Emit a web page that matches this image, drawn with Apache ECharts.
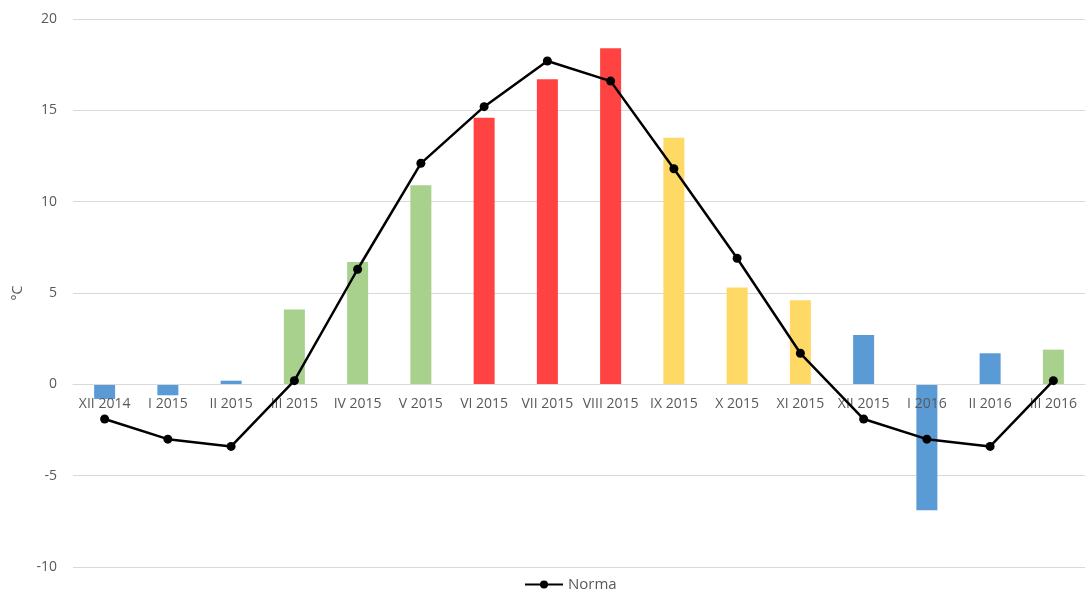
<!DOCTYPE html>
<html>
<head>
<meta charset="utf-8">
<script src="https://cdn.jsdelivr.net/npm/echarts@6/dist/echarts.min.js"></script>
<style>
  html, body { margin: 0; padding: 0; background: #ffffff; }
  #chart { width: 1088px; height: 599px; }
</style>
</head>
<body>
<div id="chart"></div>
<script>
// Monthly mean temperature vs. climate norm
const months = ['XII 2014', 'I 2015', 'II 2015', 'III 2015', 'IV 2015', 'V 2015', 'VI 2015', 'VII 2015',
  'VIII 2015', 'IX 2015', 'X 2015', 'XI 2015', 'XII 2015', 'I 2016', 'II 2016', 'III 2016'];
const measured = [-0.8, -0.6, 0.2, 4.1, 6.7, 10.9, 14.6, 16.7, 18.4, 13.5, 5.3, 4.6, 2.7, -6.9, 1.7, 1.9];
const norma = [-1.9, -3.0, -3.4, 0.2, 6.3, 12.1, 15.2, 17.7, 16.6, 11.8, 6.9, 1.7, -1.9, -3.0, -3.4, 0.2];
// season of each month: winter, spring, summer, autumn
const season = ['w', 'w', 'w', 'sp', 'sp', 'sp', 'su', 'su', 'su', 'a', 'a', 'a', 'w', 'w', 'w', 'sp'];
const yTicks = { min: -10, max: 20, interval: 5 };

const seasonColor = { w: '#5b9bd5', sp: '#a9d18e', su: '#ff4343', a: '#ffd966' };
const labelFont = 'Open Sans, DejaVu Sans, sans-serif';

const gridTop = 19;
const gridBottom = 32;
const gridHeight = 599 - gridTop - gridBottom;
// lift the category axis from the bottom edge up to the zero line
const zeroOffset = gridHeight * (0 - yTicks.min) / (yTicks.max - yTicks.min);

const chart = echarts.init(document.getElementById('chart'));
chart.setOption({
  animation: false,
  backgroundColor: '#ffffff',
  grid: { left: 73, right: 3, top: gridTop, bottom: gridBottom, containLabel: false, outerBoundsMode: 'none' },
  legend: {
    data: ['Norma'],
    bottom: 2,
    left: 519,
    itemWidth: 38,
    itemHeight: 10,
    itemGap: 6,
    textStyle: { color: '#595959', fontSize: 15, fontFamily: labelFont }
  },
  xAxis: {
    type: 'category',
    data: months,
    offset: -zeroOffset,
    axisLine: { onZero: false, lineStyle: { color: '#d9d9d9', width: 1 } },
    axisTick: { show: false },
    axisLabel: {
      interval: 0,
      hideOverlap: false,
      color: '#595959',
      fontSize: 14,
      fontFamily: labelFont,
      margin: 13
    },
    z: 2
  },
  yAxis: {
    type: 'value',
    min: yTicks.min,
    max: yTicks.max,
    interval: yTicks.interval,
    name: '°C',
    nameLocation: 'middle',
    nameGap: 48,
    nameTextStyle: { color: '#595959', fontSize: 14, fontFamily: labelFont },
    axisLine: { show: false },
    axisTick: { show: false },
    axisLabel: { color: '#595959', fontSize: 14, fontFamily: labelFont, margin: 16 },
    splitLine: { lineStyle: { color: '#d9d9d9', width: 1 } }
  },
  series: [
    {
      name: 'Temperatura',
      type: 'bar',
      barWidth: 21,
      data: measured.map((v, i) => ({ value: v, itemStyle: { color: seasonColor[season[i]] } })),
      z: 1
    },
    {
      name: 'Norma',
      type: 'line',
      data: norma,
      symbol: 'circle',
      symbolSize: 9,
      lineStyle: { color: '#000000', width: 2.5 },
      itemStyle: { color: '#000000' },
      z: 3
    }
  ]
});
</script>
</body>
</html>
